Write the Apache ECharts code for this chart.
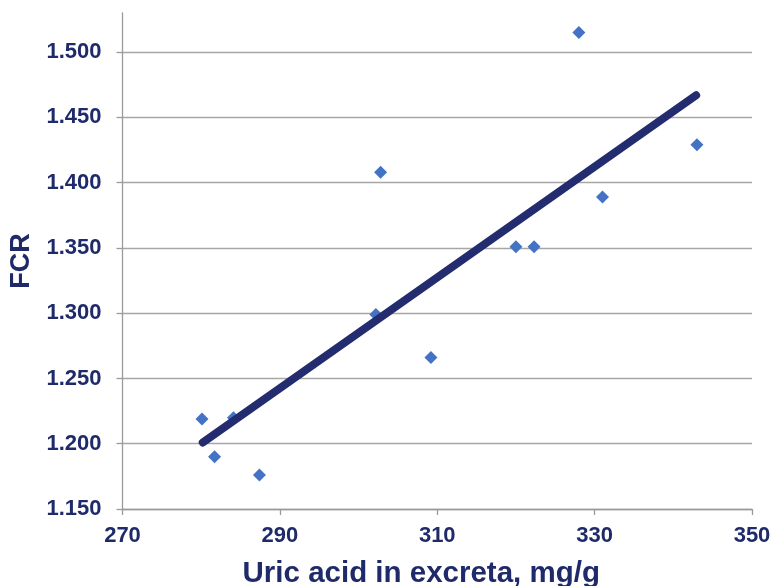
<!DOCTYPE html>
<html>
<head>
<meta charset="utf-8">
<script src="https://cdn.jsdelivr.net/npm/echarts@6/dist/echarts.min.js"></script>
<style>html,body{margin:0;padding:0;background:#fff}#c{width:772px;height:586px}</style>
</head>
<body>
<div id="c"></div>
<script>
var uricAcid = [280.1, 281.7, 284.1, 287.4, 302.2, 302.8, 309.2, 320.0, 322.3, 328.0, 331.0, 343.0];
var fcr = [1.219, 1.190, 1.220, 1.176, 1.299, 1.408, 1.266, 1.351, 1.351, 1.515, 1.389, 1.429];
var trendX = [280.2, 342.9];
var trendY = [1.201, 1.467];
var xTitle = 'Uric acid in excreta, mg/g';
var yTitle = 'FCR';

var navy = '#1f2a6b';
var points = uricAcid.map(function (x, i) { return [x, fcr[i]]; });
var trend = trendX.map(function (x, i) { return [x, trendY[i]]; });

var chart = echarts.init(document.getElementById('c'));
chart.setOption({
  animation: false,
  backgroundColor: '#fff',
  grid: { left: 122.5, right: 20, top: 13, bottom: 77, containLabel: false, outerBoundsMode: 'none' },
  xAxis: {
    type: 'value', min: 270, max: 350, interval: 20,
    name: xTitle, nameLocation: 'middle', nameGap: 50,
    nameTextStyle: { color: navy, fontSize: 29.5, fontWeight: 'bold', fontFamily: 'Liberation Sans, Arial', padding: [0, 32, 0, 0] },
    axisLine: { show: true, lineStyle: { color: '#9a9a9a', width: 1.3 } },
    axisTick: { show: true, length: 6, lineStyle: { color: '#9a9a9a', width: 1.3 } },
    axisLabel: { color: navy, fontSize: 22, fontWeight: 'bold', fontFamily: 'Liberation Sans, Arial', margin: 16 },
    splitLine: { show: false }
  },
  yAxis: {
    type: 'value', min: 1.15, max: 1.53, interval: 0.05,
    name: yTitle, nameLocation: 'middle', nameGap: 85, nameRotate: 90,
    nameTextStyle: { color: navy, fontSize: 27, fontWeight: 'bold', fontFamily: 'Liberation Sans, Arial' },
    axisLine: { show: true, lineStyle: { color: '#9a9a9a', width: 1.3 } },
    axisTick: { show: true, length: 6, lineStyle: { color: '#9a9a9a', width: 1.3 } },
    axisLabel: {
      color: navy, fontSize: 22, fontWeight: 'bold', fontFamily: 'Liberation Sans, Arial', margin: 21,
      showMaxLabel: false,
      formatter: function (v) { return v.toFixed(3); }
    },
    splitLine: { show: true, lineStyle: { color: ['#a6a6a6','#a6a6a6','#a6a6a6','#a6a6a6','#a6a6a6','#a6a6a6','#a6a6a6','#a6a6a6','rgba(0,0,0,0)'], width: 1.3 } }
  },
  series: [
    {
      type: 'scatter', data: points, symbol: 'diamond', symbolSize: 13,
      itemStyle: { color: '#4472c4', opacity: 1 }, z: 2
    },
    {
      type: 'line', data: trend, symbol: 'none', z: 3,
      lineStyle: { color: '#232c6e', width: 8, cap: 'round' }
    }
  ]
});
</script>
</body>
</html>
